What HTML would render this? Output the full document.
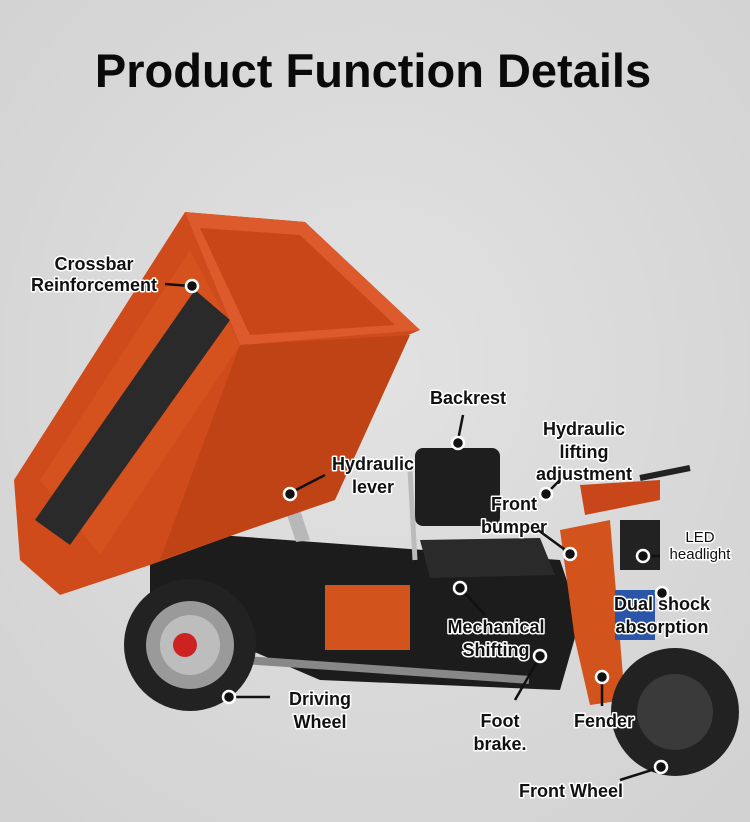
<!DOCTYPE html>
<html><head><meta charset="utf-8"><style>
html,body{margin:0;padding:0;background:#d9d9d9;}
svg{display:block}
.t{font-family:"Liberation Sans",sans-serif;font-weight:bold;font-size:18px;fill:#111;stroke:#fff;stroke-width:3px;paint-order:stroke;stroke-linejoin:round}
.d{fill:#111;stroke:#fff;stroke-width:2.5}
.l{stroke:#111;stroke-width:2.5;fill:none}
</style></head><body>
<svg width="750" height="822" viewBox="0 0 750 822">
<defs><radialGradient id="bg" cx="50%" cy="45%" r="70%"><stop offset="0" stop-color="#e2e2e2"/><stop offset="1" stop-color="#d2d2d2"/></radialGradient></defs>
<rect width="750" height="822" fill="url(#bg)"/>
<text x="373" y="87" text-anchor="middle" font-family="Liberation Sans,sans-serif" font-weight="bold" font-size="47" fill="#0a0a0a">Product Function Details</text>

<polygon points="150,530 560,560 580,620 560,690 320,680 250,650 150,600" fill="#1c1c1c"/>
<rect x="325" y="585" width="85" height="65" fill="#d2531c"/>
<rect x="230" y="655" width="300" height="8" fill="#888" transform="rotate(4 230 655)"/>
<polygon points="262,440 276,438 310,540 296,542" fill="#b8b8b8"/>
<polygon points="14,480 185,212 305,222 420,330 385,345 330,500 150,565 60,595 20,560" fill="#cf4b1c"/>
<polygon points="185,212 305,222 420,330 240,345" fill="#dc5a2c"/>
<polygon points="200,228 300,235 395,325 250,335" fill="#c84618"/>
<polygon points="40,480 190,250 240,345 100,555" fill="#d5521f"/>
<polygon points="35,520 195,290 230,320 70,545" fill="#2a2a2a"/>
<polygon points="240,345 410,335 335,500 160,560" fill="#c04316"/>
<rect x="415" y="448" width="85" height="78" rx="8" fill="#1e1e1e"/>
<polygon points="420,540 540,538 555,575 430,578" fill="#2a2a2a"/>
<line x1="410" y1="470" x2="415" y2="560" stroke="#bbb" stroke-width="5"/>
<polygon points="580,485 660,480 660,500 585,515" fill="#c9461a"/>
<polygon points="560,530 610,520 625,700 590,705 575,640" fill="#d2531c"/>
<rect x="620" y="520" width="40" height="50" fill="#222"/>
<rect x="615" y="590" width="40" height="50" fill="#2b55a8"/>
<line x1="640" y1="478" x2="690" y2="468" stroke="#222" stroke-width="6"/>
<circle cx="190" cy="645" r="66" fill="#222"/>
<circle cx="190" cy="645" r="44" fill="#9a9a9a"/>
<circle cx="190" cy="645" r="30" fill="#bdbdbd"/>
<circle cx="185" cy="645" r="12" fill="#c22"/>
<circle cx="675" cy="712" r="64" fill="#222"/>
<circle cx="675" cy="712" r="38" fill="#3a3a3a"/>

<text class="t" x="94" y="270" text-anchor="middle">Crossbar</text>
<text class="t" x="94" y="291" text-anchor="middle">Reinforcement</text>
<path class="l" d="M165,284 L190,286"/><circle class="d" cx="192" cy="286" r="6"/>
<text class="t" x="468" y="404" text-anchor="middle">Backrest</text>
<path class="l" d="M463,415 L458,440"/><circle class="d" cx="458" cy="443" r="6"/>
<text class="t" x="584" y="435" text-anchor="middle">Hydraulic</text>
<text class="t" x="584" y="458" text-anchor="middle">lifting</text>
<text class="t" x="584" y="480" text-anchor="middle">adjustment</text>
<path class="l" d="M560,480 L548,492"/><circle class="d" cx="546" cy="494" r="6"/>
<text class="t" x="373" y="470" text-anchor="middle">Hydraulic</text>
<text class="t" x="373" y="493" text-anchor="middle">lever</text>
<path class="l" d="M325,475 L292,492"/><circle class="d" cx="290" cy="494" r="6"/>
<text class="t" x="514" y="510" text-anchor="middle">Front</text>
<text class="t" x="514" y="533" text-anchor="middle">bumper</text>
<path class="l" d="M538,530 L568,552"/><circle class="d" cx="570" cy="554" r="6"/>
<text class="t" x="700" y="542" text-anchor="middle" style="font-size:15px;font-weight:normal">LED</text>
<text class="t" x="700" y="559" text-anchor="middle" style="font-size:15px;font-weight:normal">headlight</text>
<path class="l" d="M660,556 L645,556"/><circle class="d" cx="643" cy="556" r="6"/>
<text class="t" x="662" y="610" text-anchor="middle">Dual shock</text>
<text class="t" x="662" y="633" text-anchor="middle">absorption</text>
<circle class="d" cx="662" cy="593" r="6"/>
<text class="t" x="496" y="633" text-anchor="middle">Mechanical</text>
<text class="t" x="496" y="656" text-anchor="middle">Shifting</text>
<path class="l" d="M485,615 L462,590"/><circle class="d" cx="460" cy="588" r="6"/>
<path class="l" d="M538,660 L515,700"/><circle class="d" cx="540" cy="656" r="6"/>
<text class="t" x="320" y="705" text-anchor="middle">Driving</text>
<text class="t" x="320" y="728" text-anchor="middle">Wheel</text>
<path class="l" d="M232,697 L270,697"/><circle class="d" cx="229" cy="697" r="6"/>
<text class="t" x="500" y="727" text-anchor="middle">Foot</text>
<text class="t" x="500" y="750" text-anchor="middle">brake.</text>
<text class="t" x="604" y="727" text-anchor="middle">Fender</text>
<path class="l" d="M602,680 L602,706"/><circle class="d" cx="602" cy="677" r="6"/>
<text class="t" x="571" y="797" text-anchor="middle">Front Wheel</text>
<path class="l" d="M620,780 L658,768"/><circle class="d" cx="661" cy="767" r="6"/>
</svg>
</body></html>
